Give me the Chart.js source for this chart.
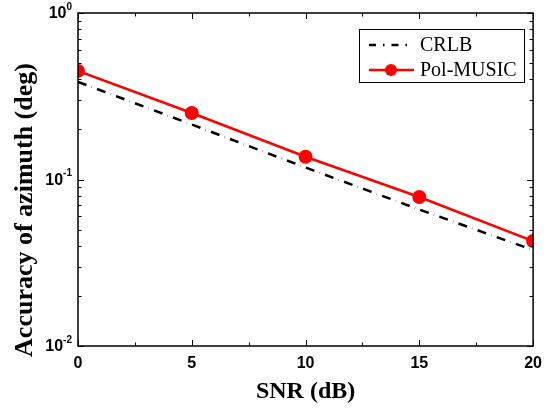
<!DOCTYPE html>
<html>
<head>
<meta charset="utf-8">
<script src="https://cdn.jsdelivr.net/npm/chart.js@4"></script>
<style>
  html, body { margin: 0; padding: 0; background: #fff; }
  #wrap { width: 550px; height: 415px; }
</style>
</head>
<body>
<div id="wrap"><canvas id="snrChart" width="550" height="415"></canvas></div>
<script>
// Data
const snrValues = [0, 5, 10, 15, 20];
const crlbValues = [0.386, 0.214, 0.118, 0.066, 0.0377];
const polMusicValues = [0.449, 0.251, 0.137, 0.0785, 0.0427];
const xTickValues = [0, 5, 10, 15, 20];
const yDecades = [0.01, 0.1, 1];
const yDecadeExponents = ["-2", "-1", "0"];
const seriesNames = ["CRLB", "Pol-MUSIC"];
const yTitle = "Accuracy of azimuth (deg)";

const sansFont = '"Liberation Sans", Arial, sans-serif';
const serifFont = '"Liberation Serif", "Times New Roman", serif';

// Frame, inward ticks, decade labels, y title and boxed legend
const framePlugin = {
    id: "frame",
    afterDraw(chart) {
        const ctx = chart.ctx;
        const area = chart.chartArea;
        const xs = chart.scales.x;
        const ys = chart.scales.y;
        ctx.save();
        ctx.strokeStyle = "#000";
        ctx.lineWidth = 1.5;
        ctx.strokeRect(area.left, area.top, area.right - area.left, area.bottom - area.top);

        // x ticks (every 2.5 dB, major at multiples of 5)
        ctx.lineWidth = 1;
        for (let v = 0; v <= 20; v += 2.5) {
            const px = Math.round(xs.getPixelForValue(v)) + 0.5;
            const len = xTickValues.includes(v) ? 6 : 3.5;
            ctx.beginPath();
            ctx.moveTo(px, area.bottom); ctx.lineTo(px, area.bottom - len);
            ctx.moveTo(px, area.top); ctx.lineTo(px, area.top + len);
            ctx.stroke();
        }
        // y ticks on the log scale
        for (let e = -2; e <= 0; e++) {
            for (let m = 1; m <= 9; m++) {
                const v = m * Math.pow(10, e);
                if (v > 1.0001) break;
                const py = Math.round(ys.getPixelForValue(v)) + 0.5;
                const len = m === 1 ? 6 : 3.5;
                ctx.beginPath();
                ctx.moveTo(area.left, py); ctx.lineTo(area.left + len, py);
                ctx.moveTo(area.right, py); ctx.lineTo(area.right - len, py);
                ctx.stroke();
            }
        }

        // decade labels 10^n
        ctx.fillStyle = "#000";
        ctx.textBaseline = "middle";
        ctx.textAlign = "left";
        yDecades.forEach((v, i) => {
            const py = ys.getPixelForValue(v);
            ctx.font = "bold 10px " + sansFont;
            const supW = ctx.measureText(yDecadeExponents[i]).width;
            const supX = area.left - 6 - supW;
            ctx.fillText(yDecadeExponents[i], supX, py - 6);
            ctx.font = "bold 16px " + sansFont;
            const baseW = ctx.measureText("10").width;
            ctx.fillText("10", supX - baseW, py + 1);
        });

        // y axis title, sits a little below the plot centre as in the figure
        ctx.save();
        ctx.translate(25, 210);
        ctx.rotate(-Math.PI / 2);
        ctx.textAlign = "center";
        ctx.font = "bold 26px " + serifFont;
        ctx.fillText(yTitle, 0, 0);
        ctx.restore();

        // legend
        const lx = 359, ly = 29, lw = 165, lh = 53;
        ctx.fillStyle = "#fff";
        ctx.fillRect(lx, ly, lw, lh);
        ctx.strokeStyle = "#000";
        ctx.lineWidth = 1;
        ctx.strokeRect(lx + 0.5, ly + 0.5, lw, lh);
        chart.data.datasets.forEach((ds, i) => {
            const rowY = ly + 16 + i * 25;
            ctx.strokeStyle = ds.borderColor;
            ctx.lineWidth = ds.borderWidth;
            ctx.setLineDash(ds.borderDash ? [7, 7, 1.5, 7] : []);
            ctx.beginPath();
            ctx.moveTo(lx + 10, rowY);
            ctx.lineTo(lx + 55, rowY);
            ctx.stroke();
            ctx.setLineDash([]);
            if (ds.pointRadius > 0) {
                ctx.fillStyle = ds.pointBackgroundColor;
                ctx.beginPath();
                ctx.arc(lx + 32, rowY, ds.pointRadius - 1, 0, Math.PI * 2);
                ctx.fill();
            }
            ctx.fillStyle = "#000";
            ctx.font = "20px " + serifFont;
            ctx.textAlign = "left";
            ctx.fillText(seriesNames[i], lx + 61, rowY + 1);
        });
        ctx.restore();
    }
};

const ctx = document.getElementById("snrChart").getContext("2d");
new Chart(ctx, {
    type: "line",
    data: {
        datasets: [
            {
                label: seriesNames[0],
                data: snrValues.map((x, i) => ({ x: x, y: crlbValues[i] })),
                borderColor: "#000",
                borderWidth: 2.5,
                borderDash: [9, 5.5, 0.3, 5.5],
                pointRadius: 0,
                fill: false,
                clip: 0,
            },
            {
                label: seriesNames[1],
                data: snrValues.map((x, i) => ({ x: x, y: polMusicValues[i] })),
                borderColor: "#ff0000",
                borderWidth: 2.5,
                pointRadius: 7,
                pointBackgroundColor: "#ff0000",
                pointBorderColor: "#ff0000",
                pointBorderWidth: 0,
                fill: false,
                clip: 0,
            }
        ]
    },
    options: {
        responsive: false,
        animation: false,
        layout: { padding: { top: 13, right: 15, left: 0, bottom: 0 } },
        plugins: {
            legend: { display: false },
            tooltip: { enabled: false }
        },
        scales: {
            x: {
                type: "linear",
                min: 0,
                max: 20,
                afterFit: (s) => { s.height = 69; },
                grid: { display: false, drawTicks: false },
                border: { display: false },
                ticks: {
                    stepSize: 2.5,
                    autoSkip: false,
                    maxRotation: 0,
                    padding: 8,
                    color: "#000",
                    font: { family: sansFont, size: 16, weight: "bold" },
                    callback: (v) => (xTickValues.includes(v) ? String(v) : "")
                },
                title: {
                    display: true,
                    text: "SNR (dB)",
                    color: "#000",
                    font: { family: serifFont, size: 24, weight: "bold" },
                    padding: { top: 4, bottom: 9 }
                }
            },
            y: {
                type: "logarithmic",
                min: 0.01,
                max: 1,
                afterFit: (s) => { s.width = 78; },
                grid: { display: false, drawTicks: false },
                border: { display: false },
                ticks: { display: false },
                title: { display: false }
            }
        }
    },
    plugins: [framePlugin]
});
</script>
</body>
</html>
